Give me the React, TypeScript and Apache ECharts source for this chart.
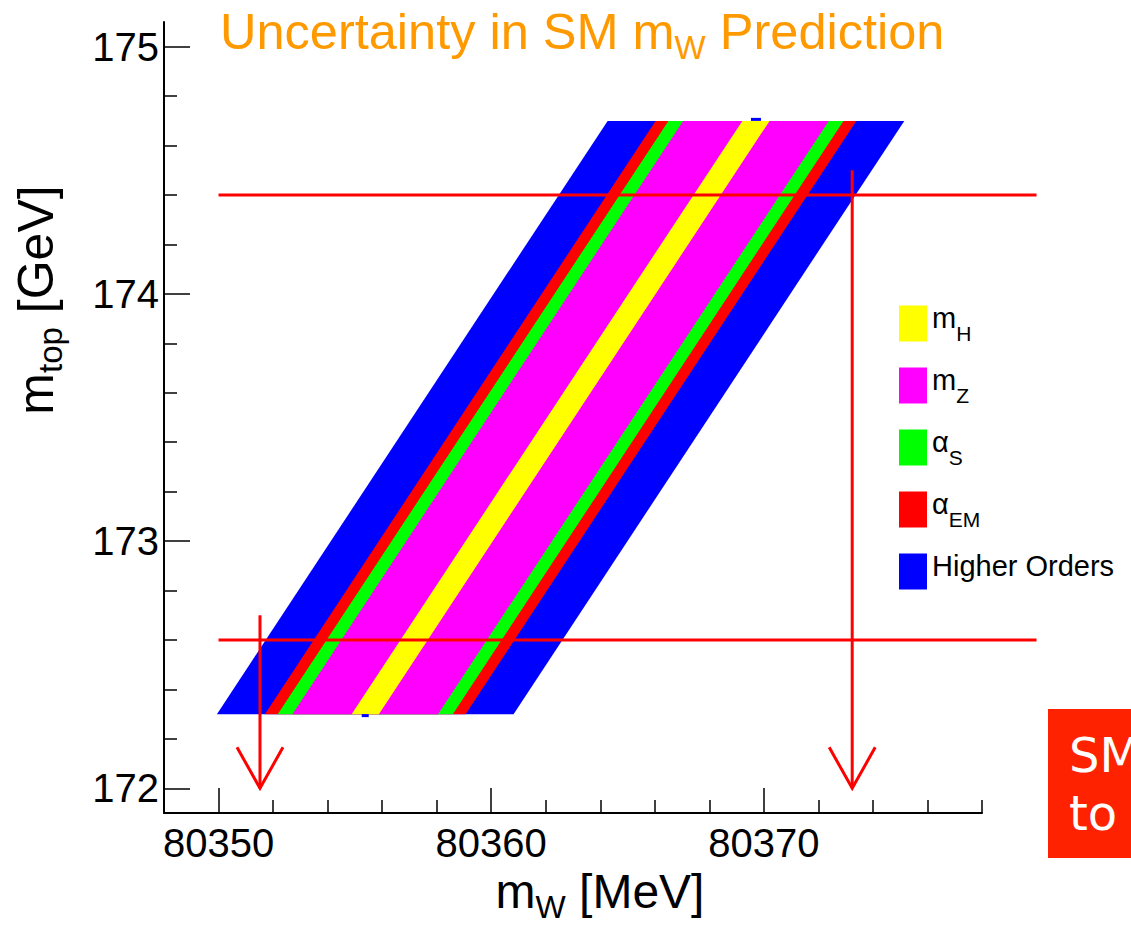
import React, { useEffect, useRef } from 'react';
import * as echarts from 'echarts';

const FONT = "'Liberation Sans', Arial, Helvetica, sans-serif";

// Axis ranges and ticks
const xMin = 80348;
const xMax = 80378;
const yMin = 171.9;
const yMax = 175.1;
const xMajorTicks = [80350, 80360, 80370];
const xMinorTicks = [80352, 80354, 80356, 80358, 80362, 80364, 80366, 80368, 80372, 80374, 80376, 80378];
const yMajorTicks = [172, 173, 174, 175];
const yMinorTicks = [172.2, 172.4, 172.6, 172.8, 173.2, 173.4, 173.6, 173.8, 174.2, 174.4, 174.6, 174.8];

// Uncertainty bands (cumulative), drawn widest first
const bandMtop = [172.3, 174.7];
const bandCenterMW = [80355.38, 80369.71];
const bandNames = ['Higher Orders', 'α_EM', 'α_S', 'm_Z', 'm_H'];
const bandHalfWidths = [5.44, 3.68, 3.21, 2.67, 0.5];
const bandColors = ['#0000ff', '#ff0000', '#00ff00', '#ff00ff', '#ffff00'];
const legendOrder = ['m_H', 'm_Z', 'α_S', 'α_EM', 'Higher Orders'];

// Red guide lines and arrows
const hLineMtop = [174.4, 172.6];
const hLineMW = [80350, 80380];
const arrowMW = [80351.52, 80373.24];
const arrowTopMtop = [172.7, 174.5];
const arrowTipMtop = [172.0, 172.0];

const legendLabels: Record<string, string> = {
  'm_H': '{b|m}{s|H}',
  'm_Z': '{b|m}{s|Z}',
  'α_S': '{b|α}{s|S}',
  'α_EM': '{b|α}{s|EM}',
  'Higher Orders': '{h|Higher Orders}',
};

export default function App() {
  const ref = useRef<HTMLDivElement>(null);

  useEffect(() => {
    if (!ref.current) return;
    const chart = echarts.init(ref.current, null, { renderer: 'svg' });

    const bandSeries = bandNames.map((name, i) => ({
      type: 'custom',
      name,
      coordinateSystem: 'cartesian2d',
      xAxisIndex: 0,
      yAxisIndex: 0,
      silent: true,
      itemStyle: { color: bandColors[i] },
      encode: { x: [0, 2], y: [1, 3] },
      data: [[bandCenterMW[0], bandMtop[0], bandCenterMW[1], bandMtop[1], bandHalfWidths[i]]],
      renderItem: (params: any, api: any) => {
        const cb = api.value(0);
        const yb = api.value(1);
        const ct = api.value(2);
        const yt = api.value(3);
        const hw = api.value(4);
        const pts = [
          api.coord([cb - hw, yb]),
          api.coord([cb + hw, yb]),
          api.coord([ct + hw, yt]),
          api.coord([ct - hw, yt]),
        ];
        return { type: 'polygon', shape: { points: pts }, style: { fill: api.visual('color') } };
      },
    }));

    const markSeries = {
      type: 'custom',
      name: 'centerMarks',
      silent: true,
      encode: { x: 0, y: 1 },
      data: [
        [bandCenterMW[0], bandMtop[0], 1],
        [bandCenterMW[1], bandMtop[1], -1],
      ],
      renderItem: (params: any, api: any) => {
        const p = api.coord([api.value(0), api.value(1)]);
        const dir = api.value(2);
        const w = dir > 0 ? 7 : 10;
        return {
          type: 'rect',
          shape: { x: p[0] - w / 2, y: dir > 0 ? p[1] : p[1] - 3, width: w, height: 3 },
          style: { fill: '#0000ff' },
        };
      },
    };

    const hLineSeries = {
      type: 'custom',
      name: 'hlines',
      silent: true,
      encode: { x: [0, 2], y: 1 },
      data: hLineMtop.map((y) => [hLineMW[0], y, hLineMW[1]]),
      renderItem: (params: any, api: any) => {
        const a = api.coord([api.value(0), api.value(1)]);
        const b = api.coord([api.value(2), api.value(1)]);
        return {
          type: 'line',
          shape: { x1: a[0], y1: a[1], x2: b[0], y2: b[1] },
          style: { stroke: '#ff0000', lineWidth: 3 },
        };
      },
    };

    const arrowSeries = {
      type: 'custom',
      name: 'arrows',
      silent: true,
      encode: { x: 0, y: [1, 2] },
      data: arrowMW.map((x, i) => [x, arrowTopMtop[i], arrowTipMtop[i]]),
      renderItem: (params: any, api: any) => {
        const top = api.coord([api.value(0), api.value(1)]);
        const tip = api.coord([api.value(0), api.value(2)]);
        return {
          type: 'group',
          children: [
            {
              type: 'line',
              shape: { x1: top[0], y1: top[1], x2: tip[0], y2: tip[1] },
              style: { stroke: '#ff0000', lineWidth: 3 },
            },
            {
              type: 'polyline',
              shape: { points: [[tip[0] - 23, tip[1] - 41], [tip[0], tip[1]], [tip[0] + 23, tip[1] - 41]] },
              style: { stroke: '#ff0000', lineWidth: 3, fill: null },
            },
          ],
        };
      },
    };

    const axisCommon = {
      type: 'value',
      splitLine: { show: false },
    };

    const option: any = {
      animation: false,
      backgroundColor: '#ffffff',
      grid: { left: 164, right: 149, top: 22, bottom: 113, outerBoundsMode: 'none' },
      xAxis: [
        {
          ...axisCommon,
          min: xMin,
          max: xMax,
          position: 'bottom',
          axisLine: { show: true, lineStyle: { color: '#000', width: 2 } },
          axisTick: { show: true, inside: true, length: 25, customValues: xMajorTicks, lineStyle: { color: '#000', width: 1.5 } },
          axisLabel: {
            show: true,
            customValues: xMajorTicks,
            formatter: (v: number) => String(v),
            margin: 10,
            fontSize: 40,
            fontFamily: FONT,
            color: '#000',
          },
        },
        {
          ...axisCommon,
          min: xMin,
          max: xMax,
          position: 'bottom',
          offset: 0,
          axisLine: { show: false },
          axisTick: { show: true, inside: true, length: 13, customValues: xMinorTicks, lineStyle: { color: '#000', width: 1.5 } },
          axisLabel: { show: false },
        },
      ],
      yAxis: [
        {
          ...axisCommon,
          min: yMin,
          max: yMax,
          position: 'left',
          axisLine: { show: true, lineStyle: { color: '#000', width: 2 } },
          axisTick: { show: true, inside: true, length: 26, customValues: yMajorTicks, lineStyle: { color: '#000', width: 1.5 } },
          axisLabel: {
            show: true,
            customValues: yMajorTicks,
            formatter: (v: number) => String(v),
            margin: 5,
            fontSize: 40,
            fontFamily: FONT,
            color: '#000',
          },
        },
        {
          ...axisCommon,
          min: yMin,
          max: yMax,
          position: 'left',
          offset: 0,
          axisLine: { show: false },
          axisTick: { show: true, inside: true, length: 13, customValues: yMinorTicks, lineStyle: { color: '#000', width: 1.5 } },
          axisLabel: { show: false },
        },
      ],
      legend: {
        data: legendOrder,
        orient: 'vertical',
        left: 899,
        top: 303,
        padding: 0,
        itemWidth: 28,
        itemHeight: 36,
        itemGap: 21,
        icon: 'rect',
        selectedMode: false,
        formatter: (name: string) => legendLabels[name] || name,
        textStyle: {
          color: '#000',
          fontFamily: FONT,
          fontSize: 29,
          rich: {
            b: { fontSize: 29, fontFamily: FONT, color: '#000', verticalAlign: 'top' },
            s: { fontSize: 21, fontFamily: FONT, color: '#000', lineHeight: 41, verticalAlign: 'bottom' },
            h: { fontSize: 29, fontFamily: FONT, color: '#000', lineHeight: 41, verticalAlign: 'top' },
          },
        },
      },
      graphic: [
        {
          type: 'text',
          x: 220,
          y: 6,
          silent: true,
          style: {
            text: '{a|Uncertainty in SM m}{w|W}{a| Prediction}',
            align: 'left',
            verticalAlign: 'top',
            fill: '#ff9900',
            rich: {
              a: { fontSize: 50.5, fontFamily: FONT, fill: '#ff9900', verticalAlign: 'top' },
              w: { fontSize: 33, fontFamily: FONT, fill: '#ff9900', lineHeight: 58, verticalAlign: 'bottom' },
            },
          },
        },
        {
          type: 'text',
          x: 600,
          y: 867,
          silent: true,
          style: {
            text: '{a|m}{w|W}{a| [MeV]}',
            align: 'center',
            verticalAlign: 'top',
            fill: '#000',
            rich: {
              a: { fontSize: 48, fontFamily: FONT, fill: '#000', verticalAlign: 'top' },
              w: { fontSize: 32, fontFamily: FONT, fill: '#000', lineHeight: 56, verticalAlign: 'bottom' },
            },
          },
        },
        {
          type: 'text',
          x: 11,
          y: 300,
          rotation: Math.PI / 2,
          silent: true,
          style: {
            text: '{a|m}{w|top}{a| [GeV]}',
            align: 'center',
            verticalAlign: 'top',
            fill: '#000',
            rich: {
              a: { fontSize: 50, fontFamily: FONT, fill: '#000', verticalAlign: 'top' },
              w: { fontSize: 33, fontFamily: FONT, fill: '#000', lineHeight: 56, verticalAlign: 'bottom' },
            },
          },
        },
        {
          type: 'rect',
          silent: true,
          shape: { x: 1048, y: 709, width: 100, height: 149 },
          style: { fill: '#ff2200' },
        },
        {
          type: 'text',
          x: 1069,
          y: 731,
          silent: true,
          style: { text: 'SM', fontSize: 48, fontFamily: "'DejaVu Sans', Verdana, sans-serif", fill: '#ffffff', align: 'left', verticalAlign: 'top' },
        },
        {
          type: 'text',
          x: 1069,
          y: 789,
          silent: true,
          style: { text: 'to', fontSize: 48, fontFamily: "'DejaVu Sans', Verdana, sans-serif", fill: '#ffffff', align: 'left', verticalAlign: 'top' },
        },
      ],
      series: [...bandSeries, markSeries, hLineSeries, arrowSeries],
    };

    chart.setOption(option);
    return () => chart.dispose();
  }, []);

  return (
    <div
      ref={ref}
      style={{ position: 'fixed', left: 0, top: 0, width: 1131, height: 926, background: '#ffffff' }}
    />
  );
}
